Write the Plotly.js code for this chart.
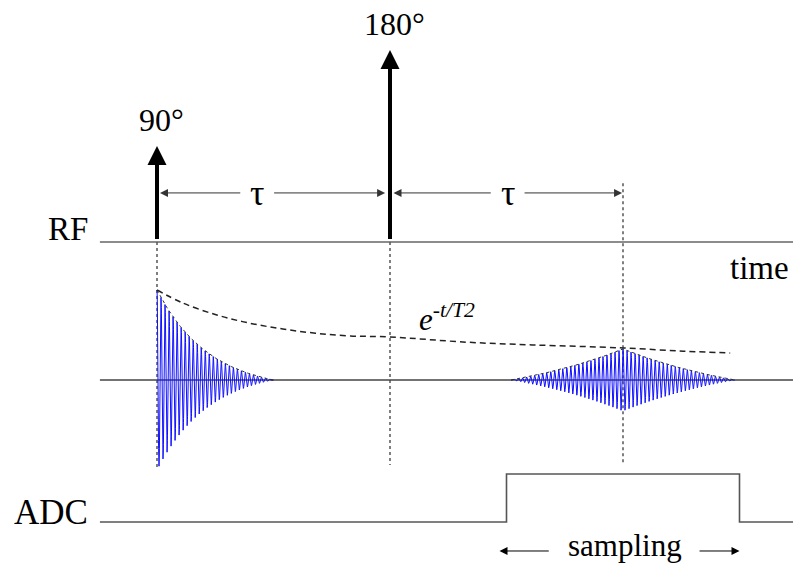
<!DOCTYPE html>
<html>
<head>
<meta charset="utf-8">
<script src="https://cdn.plot.ly/plotly-3.0.1.min.js"></script>
<style>html,body{margin:0;padding:0;background:#fff;}#chart{width:793px;height:563px;}</style>
</head>
<body>
<div id="chart"></div>
<script>
// ---------- data (time in units of tau) ----------
const pulseTimes = [0, 1];            // 90° and 180° RF pulses
const flipAngles = [90, 180];         // degrees
const pulseLabels = ['90°', '180°'];
const echoTime = 2;                   // 2·tau
const lineStart = -0.245;             // where baselines begin
const lineEnd = 2.73;

// T2 decay envelope (dashed) (relative amplitude)
const t2Times = [0, 0.11, 0.26, 0.40, 0.54, 0.68, 0.83, 1.0, 1.33, 1.61, 2.0, 2.26, 2.46];
const t2Amps  = [1.0, 0.856, 0.72, 0.63, 0.567, 0.52, 0.49, 0.478, 0.42, 0.39, 0.356, 0.32, 0.30];

// FID / echo parameters
const fidDuration = 0.5;
const t2Star = 0.223;
const echoHalfWidth = 0.48;
const echoDecay = 0.6;
const echoAmp = 0.345;
const carrierFreq = 58;              // cycles per tau

// ADC gate
const adcTimes  = [lineStart, 1.5, 1.5, 2.5, 2.5, lineEnd];
const adcLevels = [0, 0, 1, 1, 0, 0];

// vertical guides at 0, tau, 2tau (RF-axis units: top, bottom)
const guideTimes = [0, 1, 2];
const guideTops = [0, 0, 55];
const guideBottoms = [-211, -209, -209];

// ---------- signals ----------
function taper(d, T, L) {
  const e = Math.exp(-d / T), c = Math.exp(-L / T);
  return Math.max(0, (e - c) / (1 - c));
}
const fidX = [], fidY = [], fidEnvX = [], fidEnvY = [];
const nF = 1400;
for (let i = 0; i <= nF; i++) {
  const t = fidDuration * i / nF;
  const env = taper(t, t2Star, fidDuration);
  fidX.push(t); fidY.push(env * Math.cos(2 * Math.PI * carrierFreq * t));
  if (i % 20 === 0) { fidEnvX.push(t); fidEnvY.push(env); }
}
const echoX = [], echoY = [], echoEnvX = [], echoEnvY = [];
const nE = 2600;
for (let i = 0; i <= nE; i++) {
  const t = echoTime - echoHalfWidth + 2 * echoHalfWidth * i / nE;
  const env = echoAmp * taper(Math.abs(t - echoTime), echoDecay, echoHalfWidth);
  echoX.push(t); echoY.push(env * Math.cos(2 * Math.PI * carrierFreq * (t - echoTime)));
  if (i % 26 === 0) { echoEnvX.push(t); echoEnvY.push(env); }
}

const traces = [];
// RF baseline
traces.push({x: [lineStart, lineEnd], y: [0, 0], xaxis: 'x', yaxis: 'y', mode: 'lines',
  line: {color: '#666', width: 1.5}, hoverinfo: 'skip'});
// guides
guideTimes.forEach((g, i) => traces.push({x: [g, g], y: [guideTops[i], guideBottoms[i]], xaxis: 'x', yaxis: 'y',
  mode: 'lines', line: {color: '#555', width: 1.5, dash: '3px,3px'}, hoverinfo: 'skip'}));
// signal baseline
traces.push({x: [lineStart, lineEnd], y: [0, 0], xaxis: 'x', yaxis: 'y2', mode: 'lines',
  line: {color: '#444', width: 1.3}, hoverinfo: 'skip'});
// FID and echo
traces.push({x: fidX, y: fidY, xaxis: 'x', yaxis: 'y2', mode: 'lines', line: {color: '#1010ff', width: 1}, hoverinfo: 'skip'});
traces.push({x: echoX, y: echoY, xaxis: 'x', yaxis: 'y2', mode: 'lines', line: {color: '#1010ff', width: 1}, hoverinfo: 'skip'});
traces.push({x: fidEnvX, y: fidEnvY, xaxis: 'x', yaxis: 'y2', mode: 'lines', line: {color: '#333', width: 1, dash: 'dot'}, hoverinfo: 'skip'});
traces.push({x: echoEnvX, y: echoEnvY, xaxis: 'x', yaxis: 'y2', mode: 'lines', line: {color: '#333', width: 1, dash: 'dot'}, hoverinfo: 'skip'});
// T2 envelope
traces.push({x: t2Times, y: t2Amps, xaxis: 'x', yaxis: 'y2', mode: 'lines', line: {color: '#222', width: 1.5, dash: '6px,4px', shape: 'spline'}, hoverinfo: 'skip'});
// ADC
traces.push({x: adcTimes, y: adcLevels, xaxis: 'x', yaxis: 'y3', mode: 'lines', line: {color: '#555', width: 1.6}, hoverinfo: 'skip'});

// ---------- annotations ----------
const serif = 'Liberation Serif, Times New Roman, serif';
const ann = [];
function arrow(x, y, ax, ay, yref, head, size, width, color) {
  return {x: x, y: y, ax: ax, ay: ay, xref: 'x', yref: yref, axref: 'x', ayref: yref,
    text: ' ', showarrow: true, arrowhead: head, arrowsize: size, arrowwidth: width,
    arrowcolor: color, standoff: 0, startstandoff: 0, font: {size: 2, color: 'rgba(0,0,0,0)'}};
}
pulseTimes.forEach((t, i) => {
  ann.push(arrow(t, flipAngles[i], t, 0, 'y', 2, 0.95, 4, '#000'));
  ann.push({x: t + 0.02, y: flipAngles[i] + 24, xref: 'x', yref: 'y', text: pulseLabels[i], showarrow: false,
    yanchor: 'middle', font: {family: serif, size: 32, color: '#000'}});
});
// tau arrows
const tauRow = 46;
const tauSpans = [[0.013, 0.979, 0.43], [1.015, 1.996, 1.505]];
const gapHalf = 0.064;
tauSpans.forEach(s => {
  ann.push(arrow(s[0], tauRow, s[2] - gapHalf, tauRow, 'y', 2, 1.6, 1, '#333'));
  ann.push(arrow(s[1], tauRow, s[2] + gapHalf, tauRow, 'y', 2, 1.6, 1, '#333'));
  ann.push({x: s[2], y: tauRow, xref: 'x', yref: 'y', text: 'τ', showarrow: false, yanchor: 'middle',
    font: {family: serif, size: 36, color: '#000'}});
});
// sampling arrows
const sampRow = -0.604;
ann.push(arrow(1.47, sampRow, 1.69, sampRow, 'y3', 2, 1.6, 1, '#000'));
ann.push(arrow(2.5, sampRow, 2.32, sampRow, 'y3', 2, 1.6, 1, '#000'));
ann.push({x: 2.008, y: -0.48, xref: 'x', yref: 'y3', text: 'sampling', showarrow: false, yanchor: 'middle',
  font: {family: serif, size: 31, color: '#000'}});
// labels
ann.push({x: 90 / 793, y: 1 - 229 / 563, xref: 'paper', yref: 'paper', text: 'RF', showarrow: false,
  xanchor: 'right', yanchor: 'middle', font: {family: serif, size: 33, color: '#000'}});
ann.push({x: 90 / 793, y: 1 - 512 / 563, xref: 'paper', yref: 'paper', text: 'ADC', showarrow: false,
  xanchor: 'right', yanchor: 'middle', font: {family: serif, size: 35, color: '#000'}});
ann.push({x: 759 / 793, y: 1 - 268 / 563, xref: 'paper', yref: 'paper', text: 'time', showarrow: false,
  xanchor: 'center', yanchor: 'middle', font: {family: serif, size: 33, color: '#000'}});
ann.push({x: 1.245, y: 0.69, xref: 'x', yref: 'y2', text: '<i>e<sup>-t/T2</sup></i>', showarrow: false,
  xanchor: 'center', yanchor: 'middle', font: {family: serif, size: 31, color: '#000'}});

// ---------- axes (pixel-calibrated ranges) ----------
const hidden = {visible: false, fixedrange: true, showgrid: false, zeroline: false};
const layout = {
  width: 793, height: 563,
  margin: {l: 0, r: 0, t: 0, b: 0, pad: 0},
  paper_bgcolor: '#fff', plot_bgcolor: '#fff',
  showlegend: false,
  xaxis: Object.assign({range: [-157 / 233, (793 - 157) / 233]}, hidden),
  yaxis: Object.assign({range: [(242 - 563) / 1.0667, 242 / 1.0667]}, hidden),
  yaxis2: Object.assign({range: [(380 - 563) / 90, 380 / 90], overlaying: 'y'}, hidden),
  yaxis3: Object.assign({range: [(522 - 563) / 48, 522 / 48], overlaying: 'y'}, hidden),
  annotations: ann
};
Plotly.newPlot('chart', traces, layout, {displayModeBar: false, staticPlot: true});
</script>
</body>
</html>
